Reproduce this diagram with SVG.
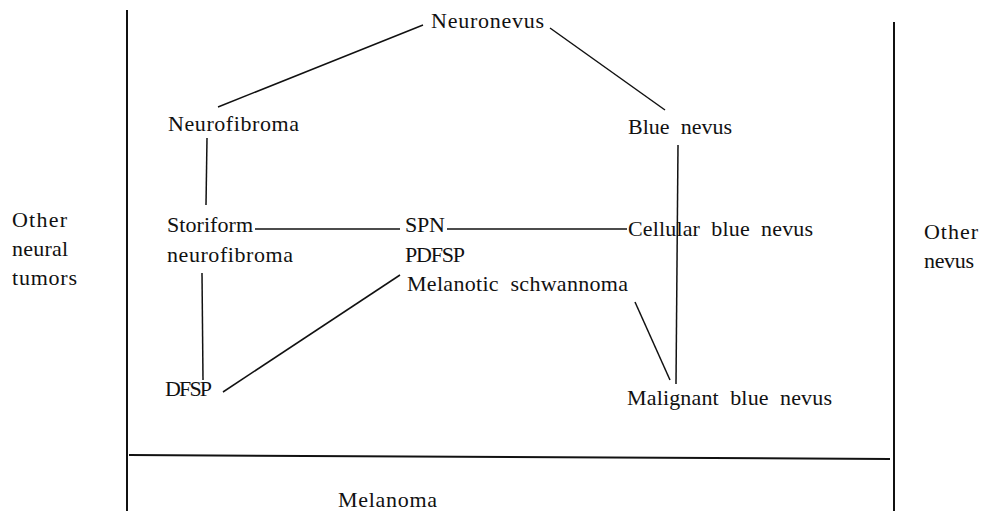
<svg xmlns="http://www.w3.org/2000/svg" width="981" height="515" viewBox="0 0 981 515">
<style>
text{font-family:"Liberation Serif","Times New Roman",serif;font-size:22px;fill:#111}
.ln{stroke:#111;stroke-width:1.5;fill:none}
.frame{stroke:#111;stroke-width:2;fill:none}
</style>
<rect width="981" height="515" fill="#fff"/>
<g id="frame">
<line class="frame" x1="127" y1="10" x2="127" y2="511"/>
<line class="frame" x1="894" y1="22" x2="894" y2="511"/>
<line class="frame" x1="129" y1="455" x2="890" y2="459"/>
</g>
<g id="connectors">
<line class="ln" x1="423" y1="25" x2="218" y2="107"/>
<line class="ln" x1="550" y1="28" x2="665" y2="110"/>
<line class="ln" x1="207" y1="138" x2="206" y2="205"/>
<line class="ln" x1="255" y1="229" x2="400" y2="229"/>
<line class="ln" x1="447" y1="229" x2="627" y2="229"/>
<line class="ln" x1="678" y1="145" x2="676" y2="384"/>
<line class="ln" x1="202" y1="273" x2="203" y2="380"/>
<line class="ln" x1="223" y1="392" x2="400" y2="275"/>
<line class="ln" x1="635" y1="302" x2="670" y2="380"/>
</g>
<g id="n-neuronevus"><text x="431" y="28" textLength="113">Neuronevus</text></g>
<g id="n-neurofibroma"><text x="168" y="131" textLength="131">Neurofibroma</text></g>
<g id="n-bluenevus"><text x="628" y="134" textLength="104" xml:space="preserve">Blue  nevus</text></g>
<g id="n-otherneural"><text x="12" y="227" textLength="55">Other</text><text x="12" y="256" textLength="56">neural</text><text x="12" y="285" textLength="65">tumors</text></g>
<g id="n-storiform"><text x="167" y="232" textLength="86">Storiform</text><text x="167" y="262" textLength="126">neurofibroma</text></g>
<g id="n-spn"><text x="405" y="232" textLength="40">SPN</text><text x="405" y="262" textLength="60">PDFSP</text></g>
<g id="n-melanotic"><text x="407" y="291" textLength="221" xml:space="preserve">Melanotic  schwannoma</text></g>
<g id="n-cellular"><text x="628" y="236" textLength="185" xml:space="preserve">Cellular  blue  nevus</text></g>
<g id="n-othernevus"><text x="924" y="239" textLength="54">Other</text><text x="924" y="268" textLength="50">nevus</text></g>
<g id="n-dfsp"><text x="165" y="396" textLength="47">DFSP</text></g>
<g id="n-malignant"><text x="627" y="405" textLength="205" xml:space="preserve">Malignant  blue  nevus</text></g>
<g id="n-melanoma"><text x="338" y="507" textLength="99">Melanoma</text></g>
</svg>
